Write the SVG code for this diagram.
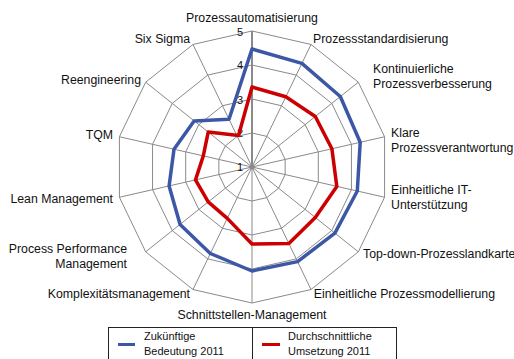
<svg xmlns="http://www.w3.org/2000/svg" width="514" height="359" viewBox="0 0 514 359">
<style>
.grid{fill:none;stroke:#8a8a8a;stroke-width:1}
.axis{stroke:#8a8a8a;stroke-width:1}
.s{fill:none;stroke-width:3.5;stroke-linejoin:round}
.blue{stroke:#3c57a6}
.red{stroke:#cc0000}
text{font-family:"Liberation Sans",Arial,sans-serif;fill:#111}
.lab{font-size:12.3px}
.tick{font-size:11px;text-anchor:end}
.leg{font-size:11px}
</style>
<rect width="514" height="359" fill="#fff"/>
<g id="grid">
<polygon class="grid" points="252,133 266.75,136.37 278.58,145.8 285.15,159.44 285.15,174.57 278.58,188.2 266.75,197.63 252,201 237.25,197.63 225.42,188.2 218.85,174.57 218.85,159.44 225.42,145.8 237.25,136.37"/>
<polygon class="grid" points="252,99 281.51,105.73 305.16,124.6 318.29,151.87 318.29,182.13 305.16,209.4 281.51,228.27 252,235 222.49,228.27 198.84,209.4 185.71,182.13 185.71,151.87 198.84,124.6 222.49,105.73"/>
<polygon class="grid" points="252,65 296.26,75.1 331.74,103.4 351.44,144.3 351.44,189.7 331.74,230.6 296.26,258.9 252,269 207.74,258.9 172.26,230.6 152.56,189.7 152.56,144.3 172.26,103.4 207.74,75.1"/>
<polygon class="grid" points="252,31 311.01,44.46 358.32,82.2 384.59,136.74 384.59,197.26 358.32,251.8 311.01,289.54 252,303 192.99,289.54 145.68,251.8 119.41,197.26 119.41,136.74 145.68,82.2 192.99,44.46"/>
<g class="axis">
<line x1="252" y1="167" x2="311.01" y2="44.46"/>
<line x1="252" y1="167" x2="358.32" y2="82.2"/>
<line x1="252" y1="167" x2="384.59" y2="136.74"/>
<line x1="252" y1="167" x2="384.59" y2="197.26"/>
<line x1="252" y1="167" x2="358.32" y2="251.8"/>
<line x1="252" y1="167" x2="311.01" y2="289.54"/>
<line x1="252" y1="167" x2="252" y2="303"/>
<line x1="252" y1="167" x2="192.99" y2="289.54"/>
<line x1="252" y1="167" x2="145.68" y2="251.8"/>
<line x1="252" y1="167" x2="119.41" y2="197.26"/>
<line x1="252" y1="167" x2="119.41" y2="136.74"/>
<line x1="252" y1="167" x2="145.68" y2="82.2"/>
<line x1="252" y1="167" x2="192.99" y2="44.46"/>
</g>
<line x1="252" y1="167" x2="252" y2="31" stroke="#8a8a8a" stroke-width="2"/>
<circle cx="252" cy="167" r="2.5" fill="#8a8a8a"/>
<text class="tick" x="243" y="171">1</text>
<text class="tick" x="243" y="137">2</text>
<text class="tick" x="243" y="104">3</text>
<text class="tick" x="243" y="69">4</text>
<text class="tick" x="243" y="36">5</text>
</g>
<g id="connectors">
<polygon id="series-zukuenftig" class="s blue" points="252,49 301.9,63.4 340.3,96.5 360.2,142.3 357.3,191 334.9,233.1 297.6,261.6 252,271 210.3,253.5 180.1,224.4 169.1,185.9 174,149.2 194.1,120.9 229,119.2"/>
<polygon id="series-umsetzung" class="s red" points="252,87 285.8,96.7 315.3,116.5 331.9,148.8 336.8,186.4 315.3,217.5 288.9,243.6 252,244 227.3,218.4 208.2,201.9 195.5,179.9 203.3,155.9 208.2,132.1 238.5,135.5"/>
</g>
<g id="labels">
<text class="lab" x="252" y="22" text-anchor="middle">Prozessautomatisierung</text>
<text class="lab" x="313" y="43">Prozessstandardisierung</text>
<text class="lab" x="373" y="73">Kontinuierliche</text>
<text class="lab" x="373" y="88">Prozessverbesserung</text>
<text class="lab" x="391" y="137">Klare</text>
<text class="lab" x="391" y="152">Prozessverantwortung</text>
<text class="lab" x="391" y="194">Einheitliche IT-</text>
<text class="lab" x="391" y="209">Unterstützung</text>
<text class="lab" x="363" y="258">Top-down-Prozesslandkarte</text>
<text class="lab" x="495" y="298" text-anchor="end">Einheitliche Prozessmodellierung</text>
<text class="lab" x="252" y="319" text-anchor="middle">Schnittstellen-Management</text>
<text class="lab" x="190" y="298" text-anchor="end">Komplexitätsmanagement</text>
<text class="lab" x="127" y="253" text-anchor="end">Process Performance</text>
<text class="lab" x="127" y="268" text-anchor="end">Management</text>
<text class="lab" x="113" y="203" text-anchor="end">Lean Management</text>
<text class="lab" x="113" y="139" text-anchor="end">TQM</text>
<text class="lab" x="141" y="84" text-anchor="end">Reengineering</text>
<text class="lab" x="190" y="43" text-anchor="end">Six Sigma</text>
</g>
<g id="legend">
<rect x="108.5" y="327.5" width="288" height="40" fill="none" stroke="#222" stroke-width="1"/>
<line x1="252.5" y1="327.5" x2="252.5" y2="367" stroke="#222" stroke-width="1"/>
<line x1="118" y1="344.5" x2="135" y2="344.5" stroke="#3c57a6" stroke-width="3"/>
<text class="leg" x="144" y="340">Zukünftige</text>
<text class="leg" x="144" y="355">Bedeutung 2011</text>
<line x1="262" y1="344.5" x2="280" y2="344.5" stroke="#cc0000" stroke-width="3"/>
<text class="leg" x="288" y="340">Durchschnittliche</text>
<text class="leg" x="288" y="355">Umsetzung 2011</text>
</g>
</svg>
